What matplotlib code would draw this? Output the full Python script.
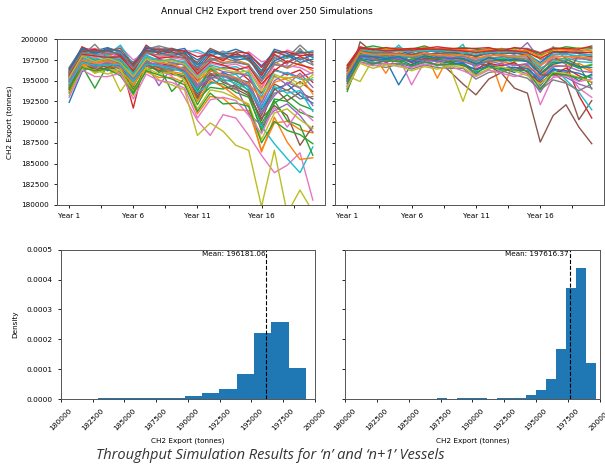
import numpy as np
import matplotlib
matplotlib.use("Agg")
import matplotlib.pyplot as plt
from matplotlib.ticker import MultipleLocator, FuncFormatter

years = ["Year %d" % i for i in range(1, 21)]

# simulated annual export (thousand tonnes), a readable subset of the 250 runs, 'n' vessels
runs_n = [
    [196.5, 199.0, 198.6, 199.0, 198.4, 197.2, 199.0, 198.8, 198.9, 198.5, 197.5, 198.6, 198.3, 198.8, 198.2, 196.8, 198.5, 198.0, 198.6, 197.8],
    [195.8, 198.4, 197.9, 198.2, 197.5, 196.1, 198.6, 197.8, 198.2, 197.6, 195.9, 197.8, 197.2, 197.5, 197.0, 194.2, 197.3, 196.5, 197.1, 196.2],
    [193.5, 196.8, 194.1, 196.9, 196.0, 193.6, 196.8, 196.2, 195.9, 195.6, 192.1, 194.8, 194.6, 193.6, 193.0, 189.2, 192.8, 192.5, 191.2, 190.6],
    [195.5, 198.1, 196.8, 197.9, 197.4, 191.7, 198.0, 197.1, 196.8, 197.1, 195.0, 196.1, 196.6, 196.4, 195.1, 193.5, 196.4, 195.7, 196.3, 194.8],
    [194.6, 197.8, 197.5, 197.1, 197.6, 195.2, 197.1, 194.4, 196.6, 196.5, 193.9, 196.3, 195.5, 195.0, 196.1, 191.9, 195.0, 196.0, 195.4, 196.0],
    [194.2, 197.0, 196.5, 197.3, 196.8, 194.8, 197.2, 196.9, 196.4, 196.2, 193.4, 195.6, 195.8, 194.9, 194.3, 190.8, 194.6, 193.8, 194.9, 193.7],
    [196.2, 198.7, 198.9, 198.4, 199.1, 197.5, 198.4, 199.0, 198.1, 198.7, 198.4, 197.9, 198.6, 197.6, 198.5, 197.3, 197.6, 198.7, 198.2, 198.6],
    [196.6, 198.9, 198.5, 198.8, 198.5, 196.0, 199.0, 198.9, 198.4, 197.9, 196.1, 197.6, 197.9, 197.8, 198.1, 195.8, 197.1, 197.8, 199.3, 197.9],
    [194.8, 197.4, 197.8, 196.9, 193.7, 195.9, 197.9, 197.3, 197.7, 196.8, 194.6, 196.9, 195.3, 196.1, 195.7, 192.6, 195.8, 195.1, 194.2, 195.4],
    [195.9, 198.6, 198.1, 198.1, 199.3, 196.9, 198.2, 198.6, 198.3, 198.3, 198.7, 198.0, 198.5, 198.1, 197.4, 196.0, 198.0, 197.7, 198.3, 198.6],
    [192.4, 196.1, 196.9, 196.2, 197.1, 194.3, 197.5, 196.5, 197.0, 195.9, 194.1, 195.2, 196.0, 195.3, 194.8, 191.5, 193.9, 194.6, 193.2, 192.3],
    [193.7, 196.9, 196.0, 196.6, 195.8, 193.9, 196.1, 195.4, 195.4, 194.8, 191.0, 193.1, 192.9, 191.5, 191.4, 186.6, 189.9, 190.1, 189.1, 188.7],
    [193.9, 197.2, 196.2, 197.0, 196.5, 194.0, 196.3, 196.8, 193.7, 195.3, 192.8, 194.2, 194.0, 194.5, 193.4, 188.9, 192.3, 193.3, 192.1, 191.5],
    [196.0, 199.1, 198.3, 198.7, 198.0, 196.6, 199.3, 198.2, 198.5, 198.0, 196.3, 198.1, 197.6, 198.2, 197.8, 195.6, 198.2, 197.2, 197.9, 197.3],
    [195.3, 197.9, 197.2, 197.9, 196.9, 195.7, 197.7, 197.0, 197.6, 197.1, 194.5, 195.8, 195.9, 194.4, 191.0, 189.6, 191.4, 192.2, 190.8, 188.8],
    [194.4, 197.1, 196.4, 196.5, 196.6, 194.5, 196.8, 196.6, 195.8, 195.4, 192.9, 195.4, 194.2, 194.0, 193.2, 190.5, 192.0, 190.8, 187.2, 189.5],
    [195.4, 197.8, 197.0, 197.2, 197.1, 195.1, 196.9, 196.3, 195.6, 193.0, 190.2, 188.4, 190.9, 190.5, 188.4, 186.0, 183.9, 184.8, 186.3, 180.6],
    [195.2, 198.0, 199.4, 197.7, 198.2, 196.9, 198.8, 199.2, 198.8, 198.0, 197.0, 197.4, 197.8, 197.3, 196.9, 195.0, 197.8, 197.0, 198.9, 197.0],
    [194.7, 197.1, 195.9, 196.4, 196.2, 194.7, 196.5, 195.1, 194.5, 193.9, 188.4, 189.9, 188.9, 187.2, 186.6, 179.8, 186.6, 179.0, 181.8, 179.2],
    [195.0, 197.7, 197.3, 197.8, 197.4, 195.5, 197.8, 197.6, 197.1, 197.0, 194.0, 196.6, 195.4, 195.8, 194.1, 189.5, 187.4, 185.6, 183.9, 187.0],
    [196.4, 198.9, 198.2, 198.9, 198.6, 196.3, 198.7, 198.5, 198.6, 198.9, 196.9, 198.7, 198.0, 197.9, 198.0, 196.2, 198.8, 198.3, 197.5, 198.1],
    [194.3, 197.0, 196.7, 196.8, 196.6, 194.4, 196.9, 196.4, 196.1, 195.8, 192.5, 195.0, 194.3, 193.1, 192.0, 186.4, 190.6, 187.6, 185.5, 185.7],
    [195.6, 198.0, 197.5, 197.5, 197.2, 196.0, 197.3, 196.0, 196.6, 196.6, 193.7, 196.5, 195.0, 195.1, 193.8, 189.8, 192.6, 190.2, 189.6, 186.0],
    [196.3, 198.5, 198.8, 198.3, 198.0, 197.0, 198.9, 198.7, 198.7, 198.6, 197.9, 198.2, 197.4, 198.5, 198.3, 196.6, 198.4, 198.5, 198.0, 198.2],
    [195.1, 197.9, 197.4, 197.6, 197.0, 195.6, 197.5, 197.6, 197.2, 196.9, 195.2, 196.7, 196.1, 195.9, 195.6, 192.3, 195.6, 194.5, 195.9, 194.2],
    [194.0, 197.3, 197.0, 196.6, 197.3, 194.9, 197.0, 196.2, 196.9, 196.1, 193.1, 195.9, 194.8, 194.2, 193.6, 190.2, 194.1, 192.6, 193.6, 192.8],
    [195.7, 198.3, 197.7, 198.5, 197.8, 196.4, 198.3, 197.9, 197.8, 197.5, 195.6, 197.1, 196.8, 197.0, 196.4, 194.0, 196.9, 196.8, 196.6, 195.8],
    [194.5, 197.6, 196.6, 197.3, 196.3, 195.0, 197.4, 196.7, 196.2, 196.7, 194.3, 195.5, 195.1, 193.9, 194.9, 191.2, 193.5, 193.9, 192.8, 193.1],
    [193.2, 196.5, 196.3, 195.8, 196.4, 193.2, 196.6, 195.8, 196.0, 195.1, 191.6, 193.9, 193.6, 192.9, 192.2, 187.9, 191.1, 191.6, 190.3, 189.2],
    [195.3, 198.2, 197.6, 198.0, 197.7, 195.8, 198.1, 197.4, 197.5, 197.3, 195.4, 196.9, 196.5, 196.7, 195.9, 193.1, 196.2, 195.9, 195.2, 195.1],
    [196.1, 198.8, 198.4, 198.6, 198.2, 196.7, 199.1, 198.4, 198.0, 198.4, 196.6, 198.4, 198.2, 197.5, 197.7, 195.3, 197.4, 198.1, 197.2, 197.6],
    [194.9, 197.5, 197.1, 197.4, 196.9, 195.4, 197.6, 197.2, 197.0, 196.4, 194.9, 196.2, 195.7, 195.4, 194.6, 192.9, 194.8, 195.3, 195.6, 193.4],
    [194.1, 196.6, 196.2, 196.4, 195.6, 193.4, 196.2, 195.7, 195.2, 194.5, 191.3, 193.5, 192.2, 192.3, 191.9, 187.5, 190.1, 189.0, 188.5, 187.4],
    [195.6, 198.2, 198.0, 197.8, 197.9, 196.2, 198.5, 197.7, 197.9, 197.8, 195.8, 197.3, 196.9, 196.3, 196.7, 194.6, 196.2, 197.4, 196.9, 196.5],
    [194.9, 197.3, 196.7, 197.1, 196.7, 195.3, 197.3, 196.9, 196.7, 196.3, 194.2, 195.3, 195.6, 195.2, 194.4, 191.0, 193.2, 194.8, 194.1, 192.0],
    [195.8, 198.6, 198.6, 198.6, 198.9, 196.8, 198.6, 198.4, 198.9, 198.2, 197.2, 198.9, 198.2, 198.4, 197.5, 195.9, 198.6, 197.9, 198.4, 198.4],
    [193.0, 196.3, 195.5, 195.5, 195.9, 192.8, 195.8, 195.0, 194.8, 194.1, 190.5, 192.7, 193.0, 192.6, 190.8, 188.6, 191.8, 189.4, 191.6, 190.2],
    [196.0, 198.4, 198.2, 198.3, 198.4, 196.5, 198.4, 198.1, 198.1, 197.7, 196.5, 197.7, 197.1, 197.2, 196.9, 194.9, 197.0, 196.6, 197.7, 196.9],
    [195.4, 198.0, 197.3, 197.7, 197.2, 195.5, 197.6, 197.3, 197.4, 197.0, 195.3, 196.6, 196.4, 196.0, 196.2, 193.7, 195.4, 195.4, 194.6, 195.7],
    [194.6, 197.2, 196.9, 196.9, 197.0, 194.9, 197.0, 196.8, 196.5, 196.0, 193.6, 194.6, 195.2, 194.7, 193.9, 191.7, 194.3, 193.5, 193.8, 191.3],
]

# same for 'n+1' vessels
runs_n1 = [
    [194.3, 197.6, 197.1, 197.5, 194.5, 197.0, 197.6, 196.8, 197.4, 197.2, 195.8, 197.0, 196.5, 196.0, 196.9, 194.4, 196.3, 196.0, 195.0, 195.8],
    [196.4, 198.3, 198.2, 195.9, 198.4, 198.0, 198.6, 195.3, 198.3, 198.0, 197.3, 198.2, 193.7, 197.4, 197.8, 195.0, 197.8, 197.6, 196.8, 196.1],
    [193.7, 197.9, 198.0, 197.7, 197.6, 197.9, 197.4, 197.9, 197.5, 197.4, 197.8, 197.2, 197.9, 198.1, 197.3, 196.7, 199.1, 197.6, 196.9, 194.0],
    [195.9, 198.6, 198.8, 198.5, 198.7, 198.4, 198.9, 198.5, 198.7, 198.6, 197.9, 198.7, 198.3, 198.7, 198.5, 196.1, 197.9, 197.0, 193.2, 190.5],
    [195.3, 198.5, 198.3, 198.4, 198.2, 197.8, 198.1, 198.4, 197.9, 197.9, 197.5, 197.9, 198.6, 198.2, 199.6, 197.5, 198.1, 198.3, 197.7, 197.5],
    [194.0, 199.7, 198.4, 197.9, 198.2, 197.3, 197.6, 197.5, 196.1, 194.6, 193.3, 195.2, 196.0, 196.6, 196.2, 195.4, 195.9, 194.8, 190.3, 192.6],
    [195.0, 198.2, 197.8, 197.4, 197.9, 194.5, 197.3, 197.8, 197.6, 197.8, 196.6, 197.6, 197.4, 196.8, 197.1, 192.1, 195.5, 196.2, 194.1, 193.0],
    [196.6, 199.0, 198.9, 198.8, 199.0, 198.6, 198.8, 198.9, 198.9, 198.7, 198.6, 198.9, 198.8, 198.9, 198.9, 198.4, 199.0, 198.8, 198.6, 198.9],
    [195.6, 194.9, 197.6, 198.1, 197.7, 197.2, 198.3, 197.4, 196.6, 192.5, 196.9, 197.8, 197.2, 197.6, 198.0, 196.4, 197.5, 197.1, 196.6, 197.0],
    [194.9, 198.0, 197.4, 197.8, 199.3, 197.7, 198.0, 197.6, 198.1, 199.4, 196.1, 197.6, 197.8, 197.1, 196.4, 195.2, 196.6, 195.1, 193.6, 191.5],
    [196.1, 198.7, 198.4, 198.6, 198.6, 198.2, 198.5, 198.6, 198.4, 198.2, 198.0, 198.5, 198.5, 198.3, 198.2, 197.2, 198.4, 198.4, 198.3, 198.1],
    [195.4, 198.1, 197.7, 197.9, 197.4, 197.5, 197.9, 197.2, 197.8, 197.4, 196.9, 197.5, 197.3, 197.0, 196.7, 195.6, 196.9, 196.7, 197.1, 196.3],
    [196.9, 198.9, 199.2, 198.9, 198.8, 198.8, 199.2, 198.7, 198.8, 199.0, 198.8, 198.6, 198.9, 198.5, 198.7, 198.1, 198.7, 199.1, 198.9, 199.0],
    [195.1, 197.8, 197.9, 197.2, 197.8, 197.2, 197.7, 197.6, 197.3, 196.8, 196.4, 197.1, 196.8, 197.2, 196.0, 194.8, 195.8, 196.5, 195.6, 194.8],
    [194.6, 197.5, 197.2, 197.0, 197.1, 196.7, 197.2, 197.0, 196.9, 197.0, 195.7, 196.4, 197.1, 196.4, 195.8, 193.6, 196.1, 195.4, 194.6, 194.1],
    [195.2, 198.8, 198.0, 198.3, 197.9, 198.1, 198.5, 197.9, 198.2, 197.7, 197.1, 196.8, 195.9, 194.1, 193.5, 187.6, 190.8, 192.1, 189.4, 187.4],
    [195.8, 198.4, 198.0, 198.2, 198.1, 197.9, 198.4, 198.0, 198.0, 197.8, 197.6, 198.1, 198.0, 198.0, 197.8, 196.8, 197.8, 198.0, 197.6, 197.8],
    [194.0, 197.3, 196.9, 196.6, 197.0, 196.4, 196.9, 196.6, 196.5, 196.5, 195.2, 196.0, 196.2, 195.7, 195.3, 193.9, 195.1, 194.7, 193.8, 194.6],
    [196.3, 198.7, 198.6, 198.9, 198.5, 198.6, 198.7, 198.8, 198.5, 198.9, 198.3, 198.7, 198.6, 198.8, 198.4, 197.6, 198.6, 198.6, 199.0, 198.5],
    [195.7, 198.2, 198.1, 197.8, 198.0, 197.9, 198.2, 198.3, 198.3, 197.6, 197.4, 197.9, 197.6, 197.8, 198.1, 196.5, 197.3, 197.8, 197.3, 197.2],
    [194.9, 197.7, 197.4, 197.6, 197.6, 196.9, 197.5, 197.4, 197.1, 197.1, 196.3, 196.8, 196.5, 196.6, 196.5, 195.0, 196.4, 196.2, 195.9, 195.3],
    [196.6, 198.9, 198.5, 198.7, 198.9, 198.6, 199.0, 198.7, 198.9, 198.7, 198.5, 198.8, 198.8, 198.6, 198.6, 197.9, 198.9, 198.7, 198.5, 198.7],
    [195.5, 198.3, 197.5, 198.1, 197.3, 197.6, 197.8, 197.7, 197.2, 197.6, 197.1, 197.3, 197.6, 197.4, 197.4, 195.9, 197.2, 197.2, 196.5, 196.9],
    [196.8, 199.1, 198.7, 199.0, 198.8, 198.9, 198.9, 199.1, 198.9, 198.9, 198.9, 199.0, 198.6, 199.0, 198.8, 198.3, 198.9, 198.9, 198.8, 199.2],
    [195.0, 197.9, 197.6, 197.3, 197.7, 197.4, 197.5, 197.3, 197.6, 197.3, 196.8, 197.4, 197.0, 196.9, 197.0, 195.3, 196.7, 196.8, 196.2, 196.0],
    [196.2, 198.6, 198.3, 198.4, 198.3, 198.1, 198.2, 198.3, 198.4, 198.4, 197.9, 198.3, 198.2, 198.4, 198.0, 195.7, 195.7, 195.7, 198.1, 197.9],
    [194.4, 197.2, 196.8, 197.1, 196.7, 196.6, 197.0, 196.9, 196.7, 196.2, 195.5, 196.3, 195.9, 195.5, 195.9, 194.2, 195.4, 195.6, 194.9, 195.2],
    [195.6, 198.2, 197.9, 198.0, 197.8, 197.8, 197.9, 198.1, 197.7, 198.0, 197.3, 197.7, 197.9, 197.7, 197.6, 196.2, 197.6, 197.4, 197.8, 197.4],
    [194.2, 197.1, 196.5, 196.9, 196.8, 196.2, 196.7, 196.4, 196.8, 196.6, 195.6, 196.5, 196.7, 196.2, 195.6, 194.6, 196.0, 195.9, 195.4, 194.9],
    [196.4, 198.8, 198.5, 198.5, 198.6, 198.5, 198.6, 198.6, 198.6, 198.4, 198.2, 198.4, 198.4, 198.5, 198.3, 197.0, 198.2, 198.2, 198.0, 198.2],
    [195.3, 198.0, 197.9, 197.7, 197.9, 197.3, 198.0, 197.8, 197.7, 197.7, 197.0, 197.8, 197.4, 197.6, 197.3, 195.8, 197.0, 197.3, 196.7, 196.6],
    [195.9, 198.5, 198.2, 198.2, 198.2, 198.0, 198.3, 198.1, 198.1, 198.1, 197.7, 198.0, 198.1, 197.9, 198.1, 196.9, 198.0, 197.9, 197.9, 197.7],
    [194.7, 197.6, 197.0, 197.4, 197.3, 196.8, 197.3, 196.9, 197.0, 196.9, 196.0, 196.7, 196.3, 196.3, 196.2, 194.0, 195.9, 195.7, 195.3, 195.6],
    [196.5, 198.9, 198.8, 198.6, 198.7, 198.7, 198.8, 198.8, 198.7, 198.6, 198.4, 198.6, 198.7, 198.6, 198.4, 197.7, 198.5, 198.5, 198.4, 198.4],
]

# histogram of all simulated years (density)
edges_n = [182900, 184267, 185633, 187000, 188367, 189733, 191100, 192467, 193833, 195200, 196567, 197933, 199300]
dens_n = [0.000002, 0.000002, 0.000002, 0.000004, 0.000004, 0.00001, 0.000021, 0.0000325, 0.0000827, 0.00022, 0.000259, 0.000103]
mean_n = 196181.06

edges_n1 = [187200, 187981, 188763, 189544, 190325, 191106, 191888, 192669, 193450, 194231, 195013, 195794, 196575, 197356, 198138, 198919, 199700]
dens_n1 = [0.000004, 0.0, 0.000003, 0.000003, 0.000002, 0.0, 0.000004, 0.000005, 0.000005, 0.0000135, 0.0000314, 0.0000674, 0.000166, 0.000371, 0.000438, 0.000122]
mean_n1 = 197616.37

plt.rcParams['font.family'] = 'DejaVu Sans'
fig = plt.figure(figsize=(6.05, 4.73), dpi=100)

ax1 = fig.add_axes([0.0942, 0.5666, 0.443, 0.3503])
ax2 = fig.add_axes([0.5537, 0.5666, 0.4446, 0.3503], sharey=ax1)
ax3 = fig.add_axes([0.1008, 0.1564, 0.4198, 0.3157])
ax4 = fig.add_axes([0.5702, 0.1564, 0.4215, 0.3157], sharey=ax3)

x = np.arange(len(years))
year_fmt = FuncFormatter(lambda v, p: years[int(v)] if float(v).is_integer() and 0 <= v < len(years) else "")

for ax, runs in [(ax1, runs_n), (ax2, runs_n1)]:
    for r in runs:
        ax.plot(x, np.array(r) * 1000, lw=1.0)
    ax.xaxis.set_major_locator(MultipleLocator(2.5))
    ax.xaxis.set_major_formatter(year_fmt)
    ax.tick_params(labelsize=5.2, length=2.5, width=0.6)
ax1.set_ylim(180000, 200000)
ax1.yaxis.set_major_locator(MultipleLocator(2500))
ax1.set_ylabel("CH2 Export (tonnes)", fontsize=5.2, labelpad=6)
ax2.tick_params(labelleft=False)

for ax, edges, dens, m in [(ax3, edges_n, dens_n, mean_n), (ax4, edges_n1, dens_n1, mean_n1)]:
    ax.hist(edges[:-1], bins=edges, weights=dens, color='#1f77b4')
    ax.axvline(m, color='k', ls='--', lw=0.8)
    ax.text(m - 100, 0.000497, "Mean: %.2f" % m, ha='right', va='top', fontsize=5.2)
    ax.set_xlim(180000, 200000)
    ax.xaxis.set_major_locator(MultipleLocator(2500))
    ax.tick_params(labelsize=5.3, length=2.5, width=0.6)
    plt.setp(ax.get_xticklabels(), rotation=45)
    ax.set_xlabel("CH2 Export (tonnes)", fontsize=5.2)
ax3.set_ylim(0, 0.0005)
ax3.yaxis.set_major_locator(MultipleLocator(0.0001))
ax3.yaxis.set_major_formatter(FuncFormatter(lambda v, p: "%.4f" % v))
ax3.set_ylabel("Density", fontsize=5.2, labelpad=6)
ax4.tick_params(labelleft=False)

for ax in [ax1, ax2, ax3, ax4]:
    for s in ax.spines.values():
        s.set_linewidth(0.7)
        s.set_color('#555555')

fig.suptitle("Annual CH2 Export trend over 250 Simulations", x=0.441, y=0.985, fontsize=6.5)
fig.text(0.447, 0.038, "Throughput Simulation Results for \u2018n\u2019 and \u2018n+1\u2019 Vessels",
         ha='center', va='center', fontsize=10.5, style='italic', family='Open Sans', color='#333333')

fig.savefig("out.png", dpi=100)
